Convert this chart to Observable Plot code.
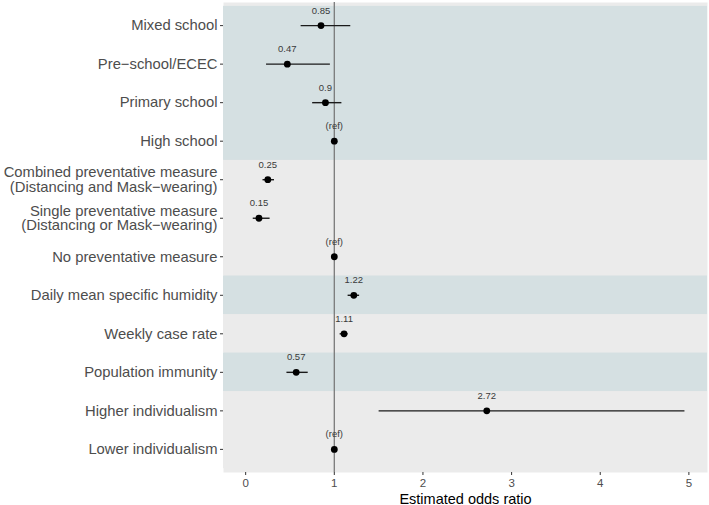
<!DOCTYPE html>
<html>
<head>
<meta charset="utf-8">
<script src="https://cdn.jsdelivr.net/npm/d3@7"></script>
<script src="https://cdn.jsdelivr.net/npm/@observablehq/plot@0.6"></script>
<style>
  html, body { margin: 0; padding: 0; background: #fff; }
  svg { display: block; }
</style>
</head>
<body>
<div id="chart"></div>
<script>
const labels = [
  "Mixed school",
  "Pre\u2212school/ECEC",
  "Primary school",
  "High school",
  "Combined preventative measure\n(Distancing and Mask\u2212wearing)",
  "Single preventative measure\n(Distancing or Mask\u2212wearing)",
  "No preventative measure",
  "Daily mean specific humidity",
  "Weekly case rate",
  "Population immunity",
  "Higher individualism",
  "Lower individualism"
];
const estimates = [0.85, 0.47, 0.9, 1, 0.25, 0.15, 1, 1.22, 1.11, 0.57, 2.72, 1];
const lower = [0.62, 0.23, 0.75, null, 0.19, 0.08, null, 1.15, 1.06, 0.46, 1.50, null];
const upper = [1.18, 0.95, 1.08, null, 0.32, 0.27, null, 1.28, 1.15, 0.70, 4.95, null];
const valueText = ["0.85", "0.47", "0.9", "(ref)", "0.25", "0.15", "(ref)", "1.22", "1.11", "0.57", "2.72", "(ref)"];
// background bands: first row, last row (1-based), fill group
const bandStart = [1, 5, 8, 9, 10, 11];
const bandEnd = [4, 7, 8, 9, 10, 12];
const bandGroup = ["blue", "grey", "blue", "grey", "blue", "grey"];
const xTicks = [0, 1, 2, 3, 4, 5];
const refValue = 1;

const rows = labels.map((label, i) => ({
  row: i + 1, label, est: estimates[i], lo: lower[i], hi: upper[i], txt: valueText[i]
}));
const bands = bandStart.map((s, i) => ({ y1: s - 0.5, y2: bandEnd[i] + 0.5, g: bandGroup[i] }));
const ciRows = rows.filter(d => d.lo != null);
const bandColor = { blue: "#d5e0e2", grey: "#ebebeb" };

const chart = Plot.plot({
  width: 709,
  height: 505,
  marginLeft: 223,
  marginRight: 2,
  marginTop: 2,
  marginBottom: 33,
  style: { fontFamily: "'Liberation Sans', Arial, Helvetica, sans-serif", background: "#ffffff" },
  x: { domain: [-0.25, 5.21] },
  y: { domain: [0.4, 12.6], reverse: true },
  marks: [
    Plot.frame({ fill: "#ebebeb", stroke: null }),
    Plot.rect(bands, { y1: "y1", y2: "y2", fill: d => bandColor[d.g] }),
    Plot.ruleX([refValue], { stroke: "#7a7a7a", strokeWidth: 1.3 }),
    Plot.link(ciRows, { x1: "lo", x2: "hi", y1: "row", y2: "row", stroke: "#1a1a1a", strokeWidth: 1.4 }),
    Plot.dot(rows, { x: "est", y: "row", r: 3.4, fill: "#000000", stroke: null }),
    Plot.text(rows, { x: "est", y: "row", text: "txt", dy: -15, fontSize: 9.5, fill: "#3a3a3a" }),
    Plot.axisY({
      ticks: rows.map(d => d.row),
      tickFormat: i => labels[i - 1],
      tickSize: 3,
      tickPadding: 3,
      fontSize: 14.8,
      lineHeight: 1.0,
      color: "#4d4d4d",
      stroke: "#333",
      label: null
    }),
    Plot.axisX({
      ticks: xTicks,
      tickFormat: d => String(d),
      tickSize: 3,
      tickPadding: 3,
      fontSize: 11.5,
      color: "#4d4d4d",
      stroke: "#333",
      label: "Estimated odds ratio",
      labelAnchor: "center",
      labelArrow: "none",
      labelOffset: 31
    })
  ]
});
// make axis title black and larger
chart.querySelectorAll("g[aria-label='x-axis label'] text").forEach(t => {
  t.setAttribute("font-size", "14.5");
  t.setAttribute("fill", "#000");
});
document.getElementById("chart").appendChild(chart);
</script>
</body>
</html>
